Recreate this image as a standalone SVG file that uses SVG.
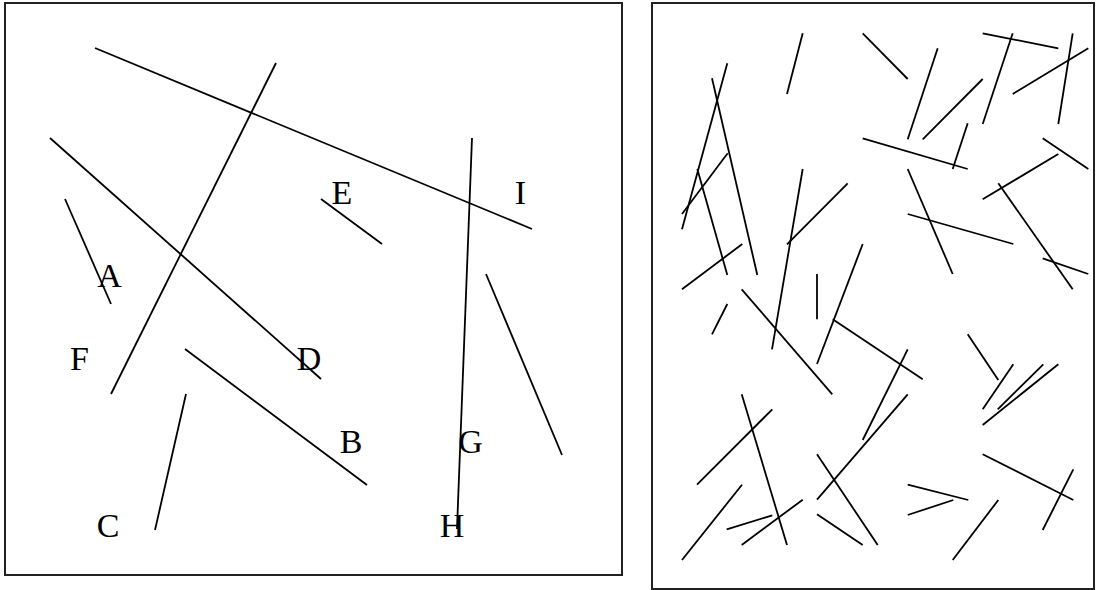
<svg xmlns="http://www.w3.org/2000/svg" width="1096" height="590" viewBox="0 0 1096 590">
<style>
.frame{fill:#fff;stroke:#222;stroke-width:2}
.seg line{stroke:#000;stroke-width:1.8;stroke-linecap:butt}
.lbl{font-family:"Liberation Serif","Times New Roman",serif;font-size:34px;fill:#000;text-anchor:middle}
</style>
<rect width="1096" height="590" fill="#fff"/>
<g id="left-panel">
<rect class="frame" x="5" y="3" width="617" height="572"/>
<g class="seg">
<line x1="95" y1="48" x2="532" y2="229"/>
<line x1="276" y1="63" x2="111" y2="394"/>
<line x1="50" y1="138" x2="321" y2="379"/>
<line x1="65" y1="199" x2="111" y2="304"/>
<line x1="321" y1="199" x2="382" y2="244"/>
<line x1="472" y1="138" x2="457" y2="529"/>
<line x1="486" y1="274" x2="562" y2="455"/>
<line x1="185" y1="349" x2="367" y2="485"/>
<line x1="186" y1="394" x2="155" y2="530"/>
</g>
<g>
<text class="lbl" x="109.5" y="287">A</text>
<text class="lbl" x="342" y="204">E</text>
<text class="lbl" x="520.5" y="204">I</text>
<text class="lbl" x="79.5" y="370">F</text>
<text class="lbl" x="309" y="370">D</text>
<text class="lbl" x="351" y="453">B</text>
<text class="lbl" x="470.5" y="453">G</text>
<text class="lbl" x="452" y="537">H</text>
<text class="lbl" x="108" y="537">C</text>
</g>
</g>
<g id="right-panel">
<rect class="frame" x="652" y="3" width="442" height="586"/>
<g class="seg">
<line x1="802.7" y1="33.3" x2="787" y2="94"/>
<line x1="727.3" y1="63.3" x2="682" y2="229.3"/>
<line x1="712" y1="78.3" x2="757.3" y2="275"/>
<line x1="727.7" y1="153.3" x2="682" y2="214"/>
<line x1="697.3" y1="169" x2="727.3" y2="275"/>
<line x1="742.3" y1="244" x2="682" y2="289.3"/>
<line x1="802.7" y1="169" x2="772" y2="349.3"/>
<line x1="847.7" y1="183.3" x2="787" y2="244.3"/>
<line x1="862.7" y1="244" x2="817" y2="364"/>
<line x1="817" y1="274" x2="817" y2="319.3"/>
<line x1="741.7" y1="289.3" x2="832.3" y2="394.3"/>
<line x1="862.7" y1="33.3" x2="907.7" y2="79"/>
<line x1="862.7" y1="138.3" x2="967.7" y2="169"/>
<line x1="937.7" y1="48.3" x2="907.7" y2="139.3"/>
<line x1="982.7" y1="79" x2="922.7" y2="139.3"/>
<line x1="967.7" y1="123.3" x2="952.7" y2="169"/>
<line x1="982.7" y1="33.3" x2="1058.3" y2="48.3"/>
<line x1="1012.7" y1="33.3" x2="982.7" y2="124"/>
<line x1="1072.7" y1="33.3" x2="1058.3" y2="124"/>
<line x1="1088.3" y1="48.3" x2="1012.7" y2="94"/>
<line x1="1042.7" y1="138.3" x2="1088.3" y2="169"/>
<line x1="1058.3" y1="154" x2="982.7" y2="199.3"/>
<line x1="998.3" y1="183.3" x2="1072.7" y2="289.3"/>
<line x1="1042.7" y1="258.3" x2="1088.3" y2="274"/>
<line x1="907.7" y1="169" x2="952.7" y2="274"/>
<line x1="907.7" y1="214" x2="1013.3" y2="244"/>
<line x1="727.3" y1="304" x2="712" y2="334.3"/>
<line x1="832.7" y1="319.3" x2="922.7" y2="379.3"/>
<line x1="741.7" y1="394.3" x2="787" y2="545"/>
<line x1="772.3" y1="409.3" x2="697" y2="484.7"/>
<line x1="742" y1="484.7" x2="682" y2="560"/>
<line x1="726.7" y1="529.3" x2="772.3" y2="515.3"/>
<line x1="802.7" y1="499.7" x2="741.7" y2="545"/>
<line x1="817" y1="454.3" x2="877.7" y2="545"/>
<line x1="817" y1="499.7" x2="907.7" y2="394.3"/>
<line x1="817" y1="514.3" x2="862.7" y2="545"/>
<line x1="862.7" y1="440" x2="907.7" y2="349.3"/>
<line x1="967.7" y1="334.3" x2="998.3" y2="380"/>
<line x1="1013.3" y1="364.3" x2="982.7" y2="409.3"/>
<line x1="1043.3" y1="364.3" x2="997.7" y2="409.3"/>
<line x1="1058.3" y1="364.3" x2="982.7" y2="425"/>
<line x1="982.7" y1="454.3" x2="1073.3" y2="500"/>
<line x1="1073.3" y1="469.3" x2="1042.7" y2="530"/>
<line x1="907.7" y1="484.7" x2="968.3" y2="500"/>
<line x1="953.3" y1="500" x2="907.7" y2="515"/>
<line x1="998.3" y1="500" x2="952.7" y2="560"/>
</g>
</g>
</svg>
